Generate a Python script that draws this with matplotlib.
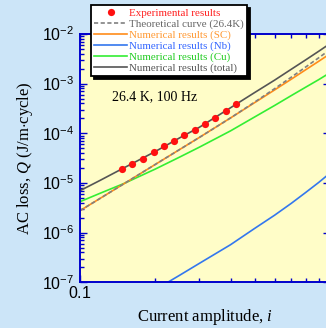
import math
import matplotlib
matplotlib.use("Agg")
import matplotlib.pyplot as plt
from matplotlib.ticker import FuncFormatter, NullFormatter

plt.rcParams["font.family"] = ["Liberation Serif", "DejaVu Serif"]
plt.rcParams["mathtext.fontset"] = "custom"
plt.rcParams["mathtext.rm"] = "Liberation Sans"
plt.rcParams["mathtext.it"] = "Liberation Serif:italic"
plt.rcParams["mathtext.default"] = "rm"

# measured loss
EXP_I = [0.147, 0.162, 0.179, 0.198, 0.217, 0.238, 0.260, 0.288, 0.317, 0.348, 0.384, 0.422]
EXP_Q = [1.91e-5, 2.38e-5, 3.04e-5, 4.15e-5, 5.48e-5, 6.90e-5, 9.12e-5,
         1.18e-4, 1.54e-4, 2.07e-4, 2.85e-4, 3.89e-4]

# curves, read at these current amplitudes
CURRENT = [0.1, 0.12, 0.15, 0.2, 0.25, 0.3, 0.4, 0.5, 0.6, 0.7, 0.8, 0.9, 1.0]
Q_THEORY = [2.77e-6, 4.85e-6, 9.68e-6, 2.36e-5, 4.70e-5, 8.24e-5, 2.04e-4,
            4.26e-4, 7.91e-4, 1.35e-3, 2.17e-3, 3.30e-3, 4.85e-3]
Q_SC = [2.77e-6, 4.85e-6, 9.68e-6, 2.36e-5, 4.70e-5, 8.24e-5, 2.04e-4,
        4.16e-4, 7.46e-4, 1.23e-3, 1.91e-3, 2.81e-3, 3.99e-3]
Q_NB = [5e-9, 9e-9, 2.2e-8, 7.1e-8, 1.38e-7, 2.4e-7, 5.71e-7,
        1.22e-6, 2.24e-6, 3.89e-6, 6.46e-6, 1.02e-5, 1.58e-5]
Q_CU = [4.2e-6, 6.17e-6, 9.77e-6, 1.905e-5, 3.31e-5, 5.25e-5, 1.12e-4,
        2.14e-4, 3.63e-4, 5.75e-4, 8.51e-4, 1.20e-3, 1.66e-3]
Q_TOTAL = [7.0e-6, 1.12e-5, 2.02e-5, 4.30e-5, 8.07e-5, 1.32e-4, 3.27e-4,
           6.64e-4, 1.175e-3, 1.95e-3, 3.02e-3, 4.47e-3, 6.4e-3]

AXIS_BLUE = "#0000CC"

fig = plt.figure(figsize=(3.26, 3.28), dpi=100, facecolor="#CCE5F8")
ax = fig.add_axes([80 / 326, 1 - 282.3 / 328, 250 / 326, 248.3 / 328])
ax.set_facecolor("#FFFDC8")

ax.plot(CURRENT, Q_NB, color="#3377EE", lw=1.2)
ax.plot(CURRENT, Q_CU, color="#33EE33", lw=1.2)
ax.plot(CURRENT, Q_SC, color="#FF8C1A", lw=1.2)
ax.plot(CURRENT, Q_THEORY, color="#808080", lw=1.2, ls=(0, (2.5, 1.5)))
ax.plot(CURRENT, Q_TOTAL, color="#555555", lw=1.2)
ax.plot(EXP_I, EXP_Q, "o", color="#FF1010", ms=5.2, mec="none", zorder=5)

ax.set_xscale("log")
ax.set_yscale("log")
ax.set_xlim(0.1, 1)
ax.set_ylim(1e-7, 1e-2)

for s in ax.spines.values():
    s.set_color(AXIS_BLUE)
    s.set_linewidth(1.4)
ax.tick_params(which="both", direction="in", top=True, right=True,
               color=AXIS_BLUE, width=1.0)
ax.tick_params(which="major", length=5)
ax.tick_params(which="minor", length=3)
ax.tick_params(axis="y", pad=4, labelsize=11.5)
ax.tick_params(axis="x", pad=3, labelsize=11.5)
ax.xaxis.set_major_formatter(FuncFormatter(lambda v, p: r"$%g$" % v))
ax.xaxis.set_minor_formatter(NullFormatter())
ax.yaxis.set_major_formatter(
    FuncFormatter(lambda v, p: r"$10^{%d}$" % round(math.log10(v))))

ax.set_xlabel(r"Current amplitude, $\mathit{i}$", fontsize=12, labelpad=3)
ax.set_ylabel(r"AC loss, $\mathit{Q}$ (J/m$\cdot$cycle)", fontsize=12, labelpad=5)

ax.text(0.128, 0.747, "26.4 K, 100 Hz", transform=ax.transAxes,
        fontsize=10, va="center", ha="left")

# legend
handles = [
    plt.Line2D([0], [0], marker="o", color="#FF1010", ls="none", ms=5.2, mec="none"),
    plt.Line2D([0], [0], color="#808080", lw=1.2, ls=(0, (2.5, 1.5))),
    plt.Line2D([0], [0], color="#FF8C1A", lw=1.2),
    plt.Line2D([0], [0], color="#3377EE", lw=1.2),
    plt.Line2D([0], [0], color="#33EE33", lw=1.2),
    plt.Line2D([0], [0], color="#555555", lw=1.2),
]
labels = [
    "Experimental results",
    "Theoretical curve (26.4K)",
    "Numerical results (SC)",
    "Numerical results (Nb)",
    "Numerical results (Cu)",
    "Numerical results (total)",
]
text_colors = ["#FF2020", "#666666", "#FF9933", "#3366FF", "#22CC22", "#555555"]
leg = fig.legend(handles, labels, loc="upper left",
                 bbox_to_anchor=(91 / 326, 1 - 5 / 328),
                 fontsize=7.9, handlelength=3.0, handletextpad=0.2,
                 labelspacing=0.1, borderpad=0.3, borderaxespad=0,
                 numpoints=1, fancybox=False, shadow={"color": "black", "alpha": 1},
                 framealpha=1, edgecolor="black")
leg.get_frame().set_linewidth(1.3)
for t, c in zip(leg.get_texts(), text_colors):
    t.set_color(c)

fig.savefig("out.png", dpi=100, facecolor=fig.get_facecolor())
